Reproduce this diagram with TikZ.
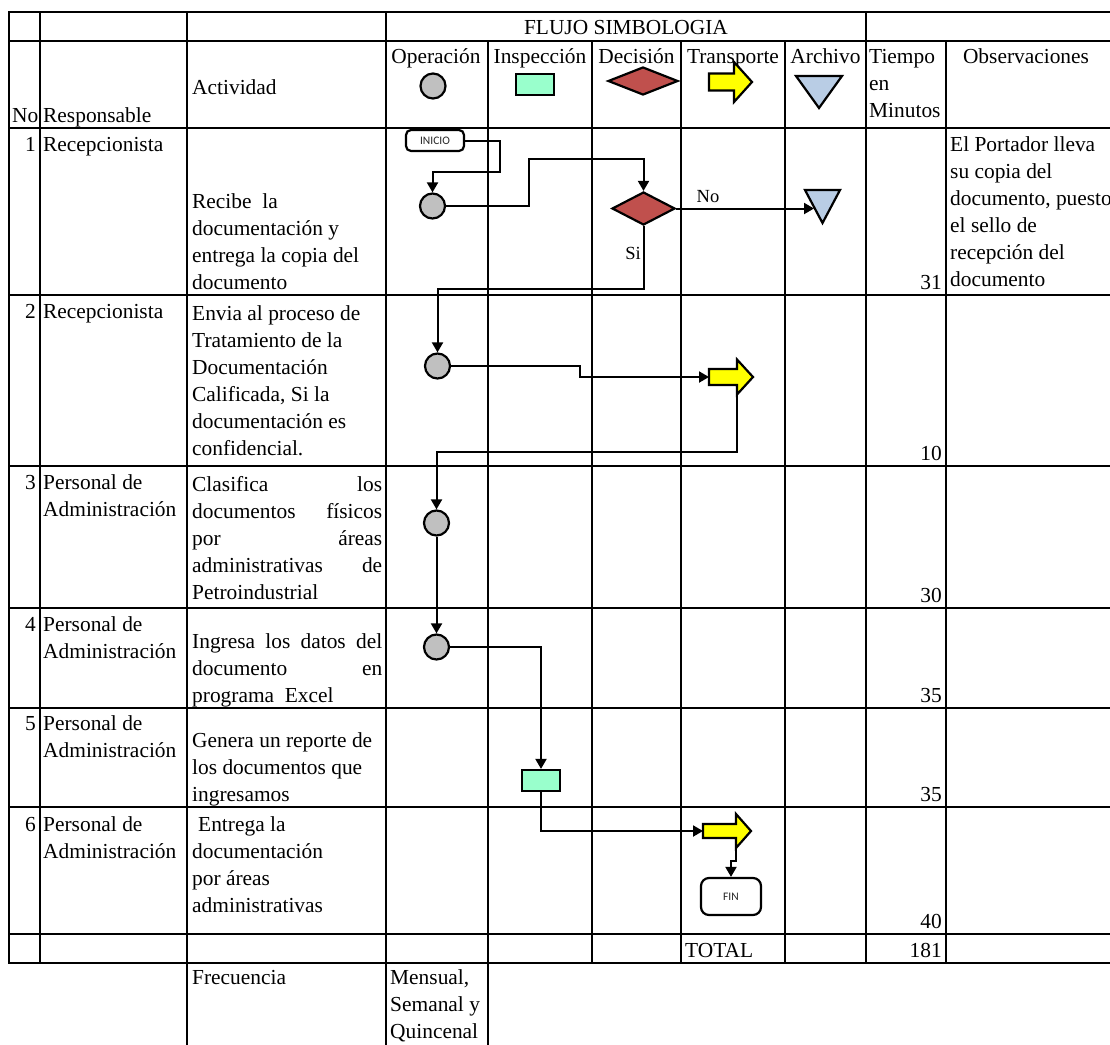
\documentclass[tikz,border=0pt]{standalone}
\usepackage{fontspec}
\setmainfont{Liberation Serif}
\newfontfamily\boxfont{Carlito}
\usetikzlibrary{arrows.meta,shapes.geometric}

\definecolor{opgray}{RGB}{192,192,192}
\definecolor{insgreen}{RGB}{153,255,204}
\definecolor{decred}{RGB}{192,80,77}
\definecolor{trayellow}{RGB}{255,255,0}
\definecolor{arcblue}{RGB}{185,205,229}

\tikzset{
  gridline/.style={line width=2.4pt, line cap=rect},
  symb/.style={draw=black, line width=2.2pt, line join=miter},
  opnode/.style={circle, symb, fill=opgray, minimum size=25pt, inner sep=0pt},
  insnode/.style={rectangle, symb, fill=insgreen, minimum width=38pt, minimum height=21pt, inner sep=0pt},
  decnode/.style={diamond, symb, fill=decred, inner sep=0pt},
  termnode/.style={rectangle, rounded corners=5pt, draw=black, line width=2.2pt, fill=white,
    text=black!85, font=\boxfont\fontsize{11.5}{13}\selectfont, inner sep=0pt},
  conn/.style={line width=2pt, -{Triangle[length=10pt,width=11pt]}},
  txt/.style={inner sep=0pt, font=\fontsize{21.4}{27}\selectfont, align=left},
  lbl/.style={inner sep=0pt, font=\fontsize{18.5}{22}\selectfont},
}

% transport symbol: name, tail x, head base x, tip x, centre y, shaft half height, head half height
\newcommand{\trarrow}[7]{%
  \draw[symb, fill=trayellow] (#2,#5-#6) -- (#3,#5-#6) -- (#3,#5-#7) -- (#4,#5)
    -- (#3,#5+#7) -- (#3,#5+#6) -- (#2,#5+#6) -- cycle;
  \coordinate (#1-in) at (#2,#5);
  \coordinate (#1-out) at (#3,#5+#7);
}
% archive symbol (downward triangle): left x, right x, top y, tip y
\newcommand{\archtri}[4]{%
  \draw[symb, fill=arcblue] (#1,#3) -- (#2,#3) -- ({(#1+#2)/2},#4) -- cycle;
}
% multi-line cell text: name, left x, baseline of first line, lines
\newcommand{\celltext}[4]{%
  \node[txt, anchor=north west] (#1) at (#2,#3-18.9) {\strut #4};
}

\begin{document}
\begin{tikzpicture}[x=1pt, y=-1pt]
\useasboundingbox (0,0) rectangle (1110,1044);
\fill[white] (0,0) rectangle (1110,1044);
\clip (0,0) rectangle (1110,1044);

% ---------- table grid ----------
\foreach \yy in {12,41,128,295,466,608,708,807,934,963}
  \draw[gridline] (9,\yy) -- (1114,\yy);
\foreach \xx in {9,40,187,386,866,1114}
  \draw[gridline] (\xx,12) -- (\xx,963);
\foreach \xx in {488,592,681,785,946}
  \draw[gridline] (\xx,41) -- (\xx,963);
\foreach \xx in {187,386,488}
  \draw[gridline] (\xx,963) -- (\xx,1060);

% ---------- header ----------
\node[txt, anchor=base] (hflujo) at (626,34) {FLUJO SIMBOLOGIA};
\node[txt, anchor=base west] (hno) at (12,122) {No};
\node[txt, anchor=base west] (hresp) at (43,122) {Responsable};
\node[txt, anchor=base west] (hact) at (192,94) {Actividad};
\node[txt, anchor=base] (hopt) at (436,63) {Operación};
\node[txt, anchor=base] (hinst) at (540,63) {Inspección};
\node[txt, anchor=base] (hdect) at (636.5,63) {Decisión};
\node[txt, anchor=base] (htrt) at (733,63) {Transporte};
\node[txt, anchor=base] (harct) at (825.5,63) {Archivo};
\celltext{htime}{869}{63}{Tiempo\\en\\Minutos}
\node[txt, anchor=base] (hobs) at (1026,63) {Observaciones};

% header symbols
\node[opnode] (hop) at (433,86) {};
\node[insnode] (hins) at (535,84.5) {};
\node[decnode, minimum width=70pt, minimum height=28pt] (hdec) at (643,81) {};
\trarrow{htr}{709}{734}{752}{82}{8.5}{20}
\archtri{796}{842}{76}{108}

% ---------- row 1 ----------
\node[txt, anchor=base east] (n1) at (36,151) {1};
\node[txt, anchor=base west] (r1) at (43,151) {Recepcionista};
\celltext{a1}{192}{208}{Recibe\ \ la\\documentación y\\entrega la copia del\\documento}
\node[txt, anchor=base east] (t1) at (942,289) {31};
\celltext{o1}{950}{151}{El Portador lleva\\su copia del\\documento, puesto\\el sello de\\recepción del\\documento}

% ---------- row 2 ----------
\node[txt, anchor=base east] (n2) at (36,318) {2};
\node[txt, anchor=base west] (r2) at (43,318) {Recepcionista};
\celltext{a2}{192}{320}{Envia al proceso de\\Tratamiento de la\\Documentación\\Calificada, Si la\\documentación es\\confidencial.}
\node[txt, anchor=base east] (t2) at (942,460) {10};

% ---------- row 3 ----------
\node[txt, anchor=base east] (n3) at (36,489) {3};
\celltext{r3}{43}{489}{Personal de\\Administración}
\celltext{a3}{192}{491}{\makebox[190pt][s]{Clasifica los}\\\makebox[190pt][s]{documentos físicos}\\\makebox[190pt][s]{por áreas}\\\makebox[190pt][s]{administrativas de}\\Petroindustrial}
\node[txt, anchor=base east] (t3) at (942,602) {30};

% ---------- row 4 ----------
\node[txt, anchor=base east] (n4) at (36,631) {4};
\celltext{r4}{43}{631}{Personal de\\Administración}
\celltext{a4}{192}{648}{\makebox[190pt][s]{Ingresa los datos del}\\\makebox[190pt][s]{documento en}\\programa\ \ Excel}
\node[txt, anchor=base east] (t4) at (942,702) {35};

% ---------- row 5 ----------
\node[txt, anchor=base east] (n5) at (36,730) {5};
\celltext{r5}{43}{730}{Personal de\\Administración}
\celltext{a5}{192}{747}{Genera un reporte de\\los documentos que\\ingresamos}
\node[txt, anchor=base east] (t5) at (942,801) {35};

% ---------- row 6 ----------
\node[txt, anchor=base east] (n6) at (36,831) {6};
\celltext{r6}{43}{831}{Personal de\\Administración}
\celltext{a6}{192}{831}{\hspace{6pt}Entrega la\\documentación\\por áreas\\administrativas}
\node[txt, anchor=base east] (t6) at (942,928) {40};

% ---------- totals and frequency ----------
\node[txt, anchor=base west] (tot) at (685,957) {TOTAL};
\node[txt, anchor=base east] (tsum) at (942,957) {181};
\node[txt, anchor=base west] (freq) at (192,984) {Frecuencia};
\celltext{freqv}{390}{984}{Mensual,\\Semanal y\\Quincenal}

% ---------- flow symbols ----------
\node[termnode, minimum width=58pt, minimum height=21pt] (ini) at (435,140.5) {INICIO};
\node[opnode] (op1) at (432.5,206) {};
\node[decnode, minimum width=63pt, minimum height=33pt] (dec) at (643.5,208.5) {};
\archtri{805}{840}{190}{223}
\coordinate (arc1-in) at (814,208.5);
\node[opnode] (op2) at (437.5,366) {};
\trarrow{tr2}{709}{737}{753}{377}{8}{17.5}
\node[opnode] (op3) at (436.5,523) {};
\node[opnode] (op4) at (436.5,647) {};
\node[insnode] (ins) at (541,780.5) {};
\trarrow{tr6}{703}{736}{751}{831}{7}{17}
\node[termnode, minimum width=60pt, minimum height=37pt, rounded corners=8pt] (fin) at (731,896.5) {FIN};

% ---------- connectors ----------
\draw[conn] (ini.east) -| (500,172) -| (op1.north);
\draw[conn] (op1.east) -| (529,159) -| (dec.north);
\draw[conn] (dec.east) -- (arc1-in);
\draw[conn] (dec.south) |- (437.5,289) -- (op2.north);
\draw[conn] (op2.east) -| (580,372) |- (tr2-in);
\draw[conn] (tr2-out) |- (436.5,452) -- (op3.north);
\draw[conn] (op3.south) -- (op4.north);
\draw[conn] (op4.east) -| (ins.north);
\draw[conn] (ins.south) |- (tr6-in);
\draw[conn] (tr6-out) -- ++(0,13) -| (fin.north);

\node[lbl, anchor=base] (lno) at (708,202) {No};
\node[lbl, anchor=base east] (lsi) at (641,259) {Si};
\end{tikzpicture}
\end{document}
